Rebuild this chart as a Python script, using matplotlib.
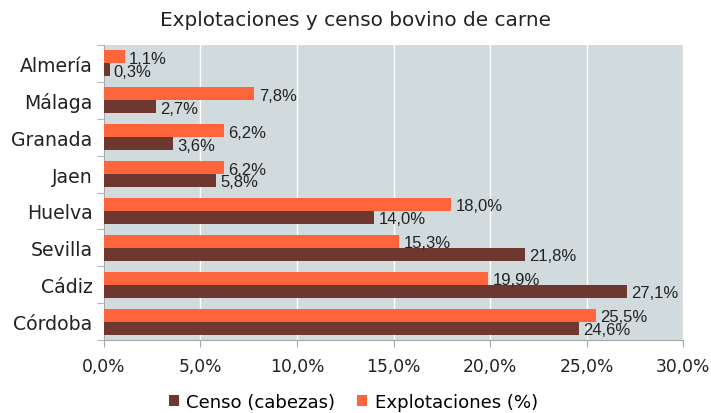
import matplotlib

matplotlib.use("Agg")
import matplotlib.pyplot as plt
import numpy as np

# bottom to top
PROVINCES = ["Córdoba", "Cádiz", "Sevilla", "Huelva", "Jaen", "Granada", "Málaga", "Almería"]
CENSO = [24.6, 27.1, 21.8, 14.0, 5.8, 3.6, 2.7, 0.3]
EXPLOTACIONES = [25.5, 19.9, 15.3, 18.0, 6.2, 6.2, 7.8, 1.1]

BROWN = "#6E3830"
ORANGE = "#FF653B"
BG = "#D1DBDE"
AXIS = "#A6A6A6"
FONT = "DejaVu Sans"

fig = plt.figure(figsize=(7.11, 4.14), dpi=100)
ax = fig.add_axes([0.146, 0.176, 0.815, 0.713])
ax.set_facecolor(BG)

y = np.arange(len(PROVINCES))
h = 0.35
b1 = ax.barh(y - h / 2, CENSO, height=h, color=BROWN, label="Censo (cabezas)", zorder=3)
b2 = ax.barh(y + h / 2, EXPLOTACIONES, height=h, color=ORANGE, label="Explotaciones (%)", zorder=3)

for bars, vals in [(b1, CENSO), (b2, EXPLOTACIONES)]:
    for bar, v in zip(bars, vals):
        ax.annotate(f"{v:.1f}%".replace(".", ","),
                    (bar.get_width(), bar.get_y() + bar.get_height() / 2),
                    xytext=(3, -1), textcoords="offset points", ha="left", va="center",
                    fontsize=12, family="Liberation Sans", color="#222222", zorder=4)

ax.set_xlim(0, 30)
ax.set_ylim(-0.5, len(PROVINCES) - 0.5)
ticks = np.arange(0, 31, 5)
ax.set_xticks(ticks)
ax.set_xticklabels([f"{t:.1f}%".replace(".", ",") for t in ticks], family=FONT, fontsize=12.3, color="#222222")
ax.set_yticks(y)
ax.set_yticklabels(PROVINCES, family=FONT, fontsize=13.6, color="#222222")
ax.set_yticks(np.arange(-0.5, len(PROVINCES), 1), minor=True)
ax.tick_params(axis="y", which="major", length=0, pad=8)
ax.tick_params(axis="y", which="minor", length=5, color=AXIS)
ax.tick_params(axis="x", length=5, color=AXIS, pad=7)
ax.xaxis.grid(True, color="white", lw=1, zorder=1)
for s in ["top", "right"]:
    ax.spines[s].set_visible(False)
for s in ["left", "bottom"]:
    ax.spines[s].set_color(AXIS)

fig.text(0.5, 0.95, "Explotaciones y censo bovino de carne", family=FONT, fontsize=14.4,
         color="#222222", ha="center", va="center")
fig.legend(handles=[b1, b2], loc="center", bbox_to_anchor=(0.497, 0.027), ncol=2, frameon=False,
           handlelength=0.55, handleheight=0.55, handletextpad=0.4, columnspacing=1.2,
           prop={"family": FONT, "size": 13.1})

fig.savefig("out.png", dpi=100)
